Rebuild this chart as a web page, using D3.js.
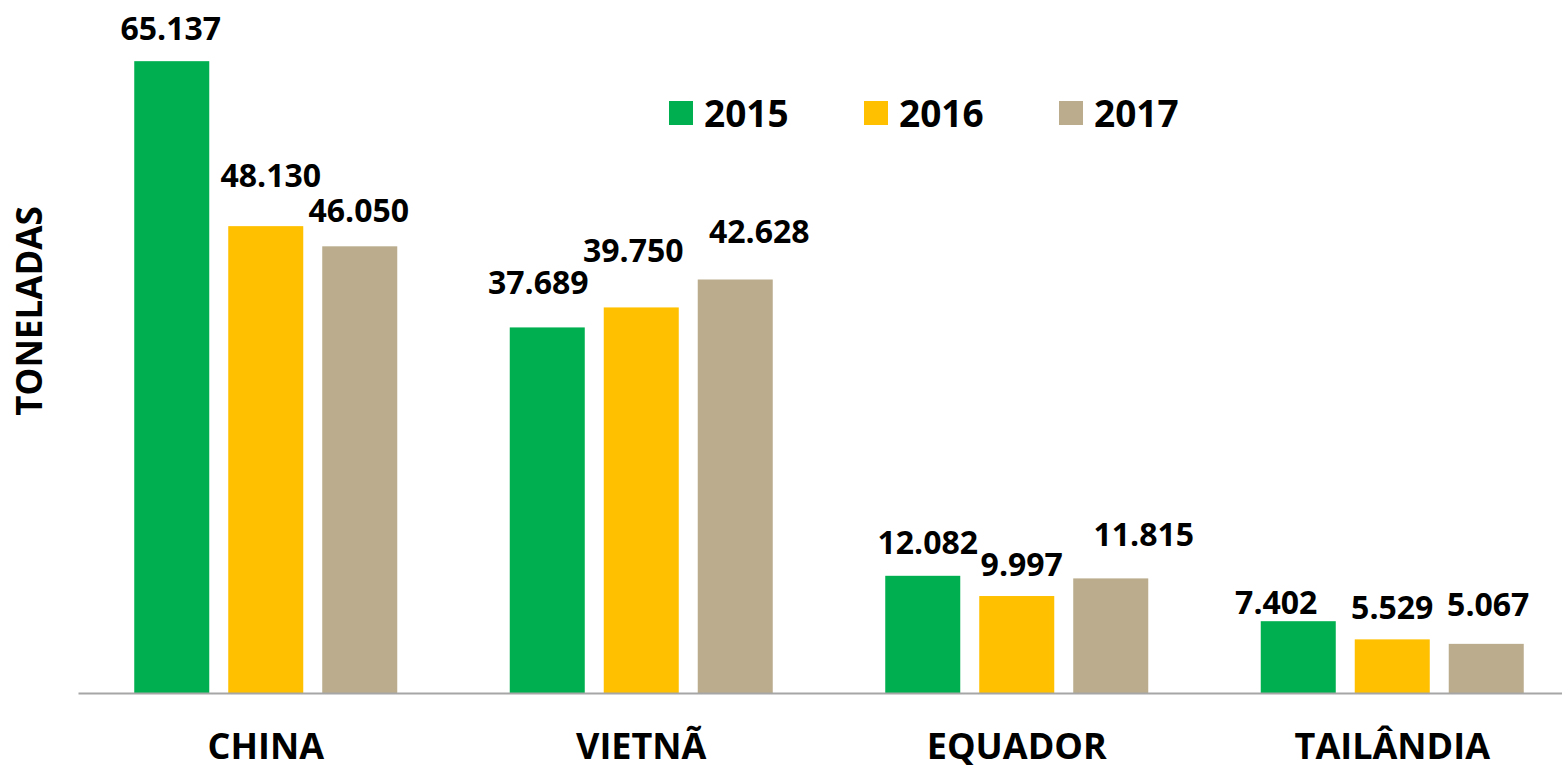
<!DOCTYPE html>
<html lang="pt">
<head>
<meta charset="utf-8">
<title>Toneladas por país</title>
<script src="https://cdn.jsdelivr.net/npm/d3@7"></script>
<style>
  body { margin: 0; background: #fff; }
  text { font-family: "Open Sans", sans-serif; font-weight: bold; fill: #000; }
</style>
</head>
<body>
<script>
// data
var countries = ["CHINA", "VIETNÃ", "EQUADOR", "TAILÂNDIA"];
var years = ["2015", "2016", "2017"];
var v2015 = [65137, 37689, 12082, 7402];
var v2016 = [48130, 39750, 9997, 5529];
var v2017 = [46050, 42628, 11815, 5067];
var colors = ["#00b050", "#ffc000", "#baac8d"];

// label nudges (the original labels were dragged by hand), [dx, gap above bar]
var labelNudge = [
  [[-1, 21], [5, 39], [-1, 24]],
  [[-9, 33], [-8, 45], [24, 37]],
  [[5, 22], [5, 20], [33, 32]],
  [[-22, 7], [0, 20], [2, 28]]
];

var w = 1562, h = 765;
var base = 693;

var series = [v2015, v2016, v2017];
var rows = [];
countries.forEach(function(c, i) {
  years.forEach(function(y, j) {
    rows.push({ country: c, year: y, value: series[j][i], ci: i, si: j });
  });
});

var svg = d3.select("body").append("svg")
  .attr("width", w)
  .attr("height", h);

var x0 = d3.scaleBand().domain(countries).range([78, 1580]);
var x1 = d3.scaleBand().domain(years).range([56.25, 319.25]).paddingInner(0.202);
var y = d3.scaleLinear().domain([0, 70000]).range([base, 14]);

// bars
svg.selectAll("rect.bar")
  .data(rows)
  .enter()
  .append("rect")
  .attr("class", "bar")
  .attr("x", function(d) { return x0(d.country) + x1(d.year); })
  .attr("y", function(d) { return y(d.value); })
  .attr("width", x1.bandwidth())
  .attr("height", function(d) { return base - y(d.value); })
  .attr("fill", function(d) { return colors[d.si]; });

// value labels
var fmt = function(v) { return d3.format(",")(v).replace(/,/g, "."); };
svg.selectAll("text.val")
  .data(rows)
  .enter()
  .append("text")
  .attr("class", "val")
  .attr("x", function(d) { return x0(d.country) + x1(d.year) + x1.bandwidth() / 2 + labelNudge[d.ci][d.si][0]; })
  .attr("y", function(d) { return y(d.value) - labelNudge[d.ci][d.si][1]; })
  .attr("text-anchor", "middle")
  .style("font-size", "32px")
  .text(function(d) { return fmt(d.value); });

// x axis
var xAxis = d3.axisBottom(x0).tickSize(0).tickSizeOuter(0);
var gx = svg.append("g")
  .attr("transform", "translate(0," + base + ")")
  .call(xAxis);
gx.select(".domain").attr("stroke", "#a6a6a6").attr("stroke-width", 2);
gx.selectAll("text")
  .attr("y", 66)
  .attr("dy", 0)
  .style("font-size", "36px")
  .style("font-family", "'Open Sans', sans-serif")
  .style("font-weight", "bold")
  .attr("fill", "#000");

// y title
svg.append("text")
  .attr("transform", "translate(42,311) rotate(-90)")
  .attr("text-anchor", "middle")
  .style("font-size", "35px")
  .text("TONELADAS");

// legend
var legend = svg.selectAll("g.leg")
  .data(years)
  .enter()
  .append("g")
  .attr("class", "leg")
  .attr("transform", function(d, i) { return "translate(" + (669 + i * 195) + ",101)"; });
legend.append("rect")
  .attr("width", 24)
  .attr("height", 24)
  .attr("fill", function(d, i) { return colors[i]; });
legend.append("text")
  .attr("x", 35)
  .attr("y", 26)
  .style("font-size", "37px")
  .text(function(d) { return d; });
</script>
</body>
</html>
